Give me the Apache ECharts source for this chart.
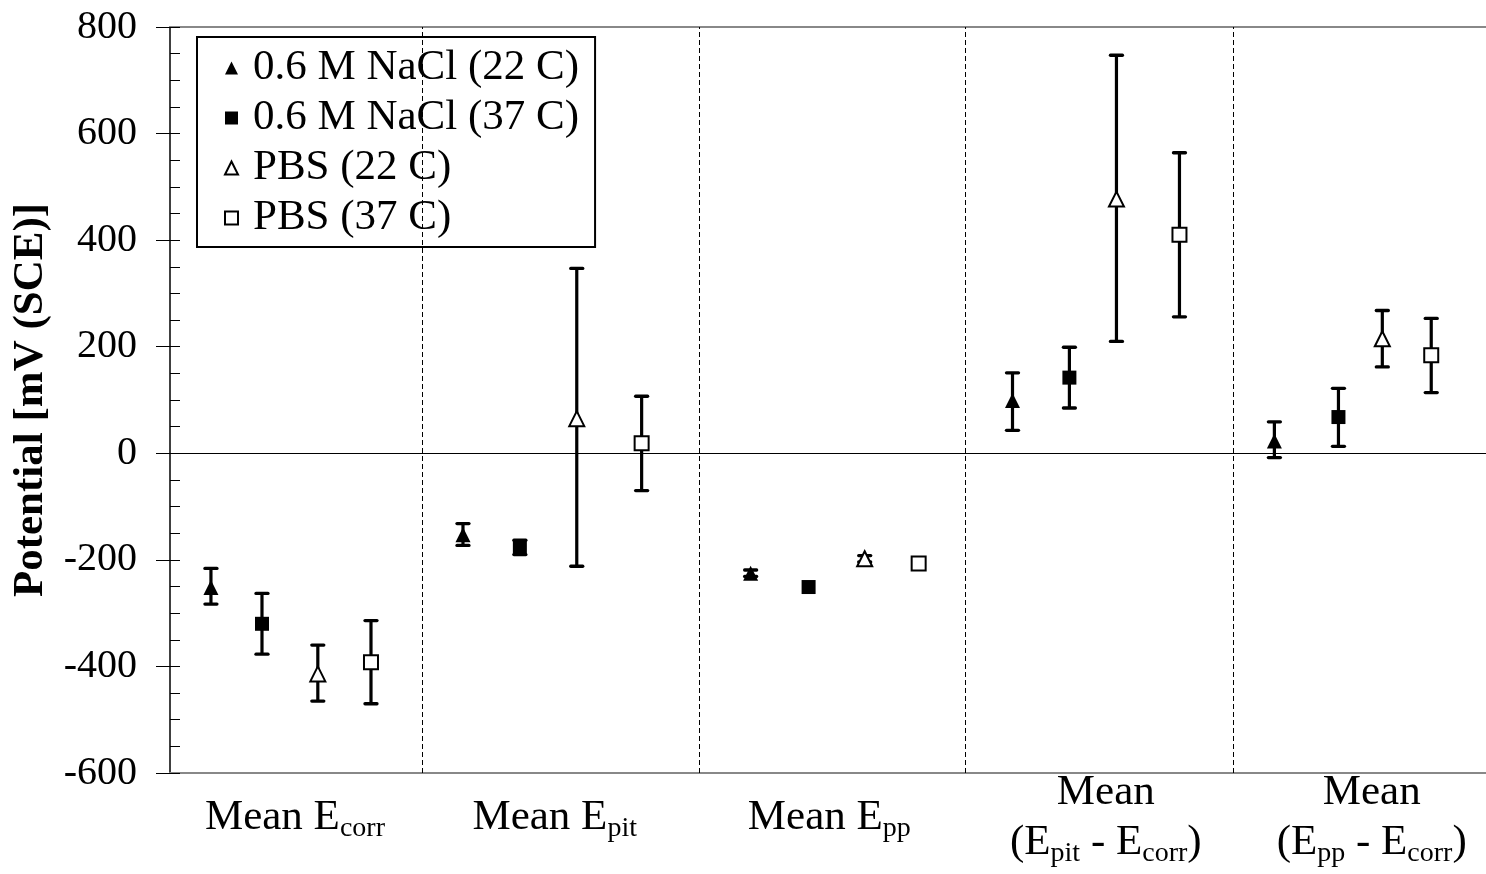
<!DOCTYPE html>
<html>
<head>
<meta charset="utf-8">
<script src="https://cdn.jsdelivr.net/npm/echarts@6/dist/echarts.min.js"></script>
<style>
html,body{margin:0;padding:0;background:#fff;}
#chart{width:1486px;height:874px;}
</style>
</head>
<body>
<div id="chart"></div>
<script>
// ---- data ----
const seriesNames = ['0.6 M NaCl (22 C)', '0.6 M NaCl (37 C)', 'PBS (22 C)', 'PBS (37 C)'];
// x positions (group index units: group g spans roughly g..g+1)
const nacl22X = [0.154, 1.102, 2.184, 3.169, 4.154];
const nacl37X = [0.346, 1.316, 2.402, 3.383, 4.395];
const pbs22X  = [0.556, 1.530, 2.613, 3.560, 4.560];
const pbs37X  = [0.756, 1.774, 2.816, 3.797, 4.744];
// means (mV)
const nacl22Mean = [-252, -153, -225, 99, 23];
const nacl37Mean = [-320, -177, -251, 142, 68];
const pbs22Mean  = [-414, 65, -198, 477, 215];
const pbs37Mean  = [-392, 19, -207, 410, 184];
// error bar lows / highs (mV)
const nacl22Low  = [-283, -173, -231, 43, -8];
const nacl22High = [-216, -132, -219, 151, 59];
const nacl37Low  = [-377, -190, -251, 85, 13];
const nacl37High = [-263, -163, -251, 199, 122];
const pbs22Low   = [-465, -212, -204, 210, 162];
const pbs22High  = [-360, 347, -192, 747, 268];
const pbs37Low   = [-470, -70, -207, 256, 114];
const pbs37High  = [-314, 107, -207, 564, 253];
// group separators and category labels
const sepX = [0.947, 1.985, 2.989, 3.996];
const labelX = [0.47, 1.447, 2.48, 3.52, 4.52];
const categoryLabels = [
  'Mean E{sub|corr}',
  'Mean E{sub|pit}',
  'Mean E{sub|pp}',
  'Mean\n(E{sub|pit} - E{sub|corr})',
  'Mean\n(E{sub|pp} - E{sub|corr})'
];

const FONT = '"Liberation Serif", "Times New Roman", serif';

const xs = [nacl22X, nacl37X, pbs22X, pbs37X];
const means = [nacl22Mean, nacl37Mean, pbs22Mean, pbs37Mean];
const lows = [nacl22Low, nacl37Low, pbs22Low, pbs37Low];
const highs = [nacl22High, nacl37High, pbs22High, pbs37High];
const symbols = ['triangle', 'rect', 'triangle', 'rect'];
const filled = [true, true, false, false];
const sizes = [15, 14, 15, 14];

function renderErr(params, api) {
  const x = api.value(0), lo = api.value(1), hi = api.value(2);
  if (lo === hi) return null;
  const a = api.coord([x, lo]), b = api.coord([x, hi]);
  const hw = 6;
  const st = {stroke: '#000', lineWidth: 3.3, lineCap: 'round'};
  return {type: 'group', children: [
    {type: 'line', shape: {x1: a[0], y1: a[1], x2: b[0], y2: b[1]}, style: {stroke: '#000', lineWidth: 3.2}},
    {type: 'line', shape: {x1: a[0] - hw, y1: a[1], x2: a[0] + hw, y2: a[1]}, style: st},
    {type: 'line', shape: {x1: b[0] - hw, y1: b[1], x2: b[0] + hw, y2: b[1]}, style: st}
  ]};
}

const series = [];
for (let s = 0; s < 4; s++) {
  series.push({
    type: 'custom',
    name: 'err' + s,
    renderItem: renderErr,
    data: xs[s].map((x, i) => [x, lows[s][i], highs[s][i]]),
    z: 2,
    silent: true
  });
}
for (let s = 0; s < 4; s++) {
  series.push({
    type: 'scatter',
    name: seriesNames[s],
    symbol: symbols[s],
    symbolSize: sizes[s],
    data: xs[s].map((x, i) => [x, means[s][i]]),
    itemStyle: filled[s]
      ? {color: '#000', opacity: 1}
      : {color: '#fff', borderColor: '#000', borderWidth: 2, opacity: 1},
    z: 3,
    silent: true
  });
}
// separators and zero line
series.push({
  type: 'line',
  name: 'refs',
  data: [],
  silent: true,
  markLine: {
    silent: true,
    symbol: 'none',
    label: {show: false},
    animation: false,
    data: [
      ...sepX.map(v => ({xAxis: v, lineStyle: {color: '#000', width: 1, type: [5, 3]}})),
      {yAxis: 0, lineStyle: {color: '#000', width: 1, type: 'solid'}}
    ]
  }
});

const chart = echarts.init(document.getElementById('chart'), null, {renderer: 'canvas'});
chart.setOption({
  animation: false,
  backgroundColor: '#fff',
  grid: {left: 170, top: 27, right: 0, height: 746, containLabel: false},
  legend: {
    data: seriesNames,
    orient: 'vertical',
    left: 197, top: 37,
    padding: [8, 16, 6, 27],
    itemGap: 4,
    itemWidth: 13, itemHeight: 13,
    borderColor: '#000', borderWidth: 2,
    backgroundColor: '#fff',
    selectedMode: false,
    textStyle: {fontFamily: FONT, fontSize: 43, color: '#000', lineHeight: 46, padding: [0, 0, 0, 10]}
  },
  xAxis: [{
    type: 'value', min: 0, max: 4.95, position: 'bottom',
    axisLine: {show: true, onZero: false, lineStyle: {color: '#888', width: 2}},
    axisTick: {show: false},
    splitLine: {show: false},
    axisLabel: {
      show: true,
      customValues: labelX,
      margin: 45,
      verticalAlign: 'middle',
      formatter: function (v) {
        const i = labelX.indexOf(v);
        return i >= 0 ? categoryLabels[i] : '';
      },
      fontFamily: FONT, fontSize: 43, color: '#000', lineHeight: 50,
      rich: {
        sub: {fontFamily: FONT, fontSize: 28, color: '#000', lineHeight: 32, padding: [18, 0, 0, 0], verticalAlign: 'bottom'}
      }
    }
  }, {
    type: 'value', min: 0, max: 4.95, position: 'top',
    axisLine: {show: true, onZero: false, lineStyle: {color: '#888', width: 2}},
    axisTick: {show: false}, axisLabel: {show: false}, splitLine: {show: false}
  }],
  yAxis: [{
    type: 'value', min: -600, max: 800, interval: 200, position: 'left',
    name: 'Potential [mV (SCE)]',
    nameLocation: 'middle',
    nameGap: 110,
    nameTextStyle: {fontFamily: FONT, fontSize: 43, fontWeight: 'bold', color: '#000'},
    axisLine: {show: true, onZero: false, lineStyle: {color: '#000', width: 1.5}},
    axisTick: {show: true, inside: false, length: 14, lineStyle: {color: '#000', width: 1}},
    splitLine: {show: false},
    axisLabel: {fontFamily: FONT, fontSize: 40, color: '#000', margin: 33}
  }, {
    type: 'value', min: -600, max: 800, interval: 200, position: 'left',
    axisLine: {show: false},
    axisTick: {show: true, inside: true, length: 10, lineStyle: {color: '#000', width: 1}},
    minorTick: {show: true, splitNumber: 4, length: 10, lineStyle: {color: '#000', width: 1}},
    axisLabel: {show: false},
    splitLine: {show: false}
  }],
  series: series
});
</script>
</body>
</html>
